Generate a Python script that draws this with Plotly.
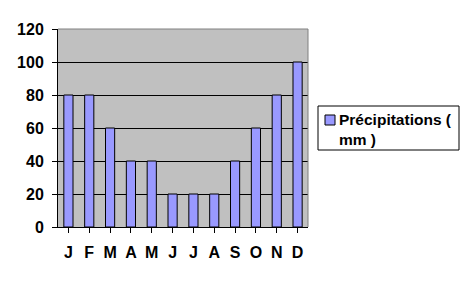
import plotly.graph_objects as go

month_labels = ["J", "F", "M", "A", "M", "J", "J", "A", "S", "O", "N", "D"]
precip = [80, 80, 60, 40, 40, 20, 20, 20, 40, 60, 80, 100]
y_ticks = [0, 20, 40, 60, 80, 100, 120]
series_name = "Précipitations (<br>mm )"

FONT = "Liberation Sans, Arial, sans-serif"
BAR_COLOR = "#9999FF"

# plot area in pixels: x 58..308, y 29..227
L, R, T, B = 58, 308, 29, 227
W, H = R - L, B - T


def px(x):
    return (x - L) / W


def py(y):
    return (B - y) / H


fig = go.Figure()
fig.add_trace(go.Bar(
    x=list(range(len(precip))),
    y=precip,
    name=series_name,
    marker=dict(color=BAR_COLOR, line=dict(color="black", width=1)),
    showlegend=False,
))

fig.update_layout(
    width=468, height=281,
    margin=dict(l=L, r=468 - R, t=T, b=281 - B),
    paper_bgcolor="white",
    plot_bgcolor="#C0C0C0",
    font=dict(family=FONT, size=16, color="black", weight="bold"),
    bargap=0.56,
    showlegend=False,
    xaxis=dict(
        tickmode="array",
        tickvals=list(range(len(precip))),
        ticktext=month_labels,
        range=[-0.5, len(precip) - 0.5],
        tickson="boundaries",
        ticks="outside", ticklen=5, tickcolor="black", tickwidth=1,
        showline=True, linecolor="black", linewidth=1,
        showgrid=False, zeroline=False,
        ticklabelstandoff=6,
        tickfont=dict(size=16),
    ),
    yaxis=dict(
        range=[0, 120],
        tickvals=y_ticks,
        ticks="outside", ticklen=5, tickcolor="black", tickwidth=1,
        showline=True, linecolor="black", linewidth=1,
        showgrid=True, gridcolor="black", gridwidth=1,
        zeroline=False,
        ticklabelstandoff=5,
        tickfont=dict(size=16),
    ),
    shapes=[
        # gray top and right border of plot area
        dict(type="line", xref="paper", yref="paper", x0=0, x1=1, y0=1, y1=1,
             line=dict(color="#808080", width=1), layer="above"),
        dict(type="line", xref="paper", yref="paper", x0=1, x1=1, y0=0, y1=1,
             line=dict(color="#808080", width=1), layer="above"),
        # legend box
        dict(type="rect", xref="paper", yref="paper",
             x0=px(318), x1=px(459), y0=py(150), y1=py(106),
             line=dict(color="black", width=1), fillcolor="white", layer="above"),
        # legend symbol
        dict(type="rect", xref="paper", yref="paper",
             x0=px(325), x1=px(335), y0=py(125), y1=py(115),
             line=dict(color="black", width=1), fillcolor=BAR_COLOR, layer="above"),
    ],
    annotations=[
        dict(text=series_name, xref="paper", yref="paper",
             x=px(337), y=py(129), xanchor="left", yanchor="middle",
             align="left", showarrow=False,
             font=dict(family=FONT, size=15.5, color="black", weight="bold")),
    ],
)

fig.write_html("out.html")
